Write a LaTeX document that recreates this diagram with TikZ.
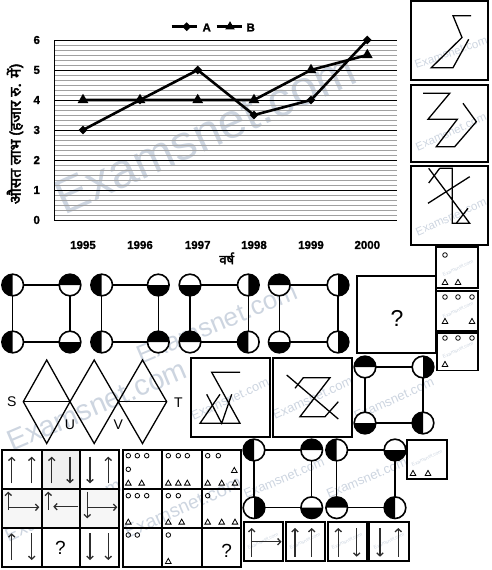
\documentclass[tikz,border=0pt]{standalone}
\usepackage{fontspec}
\setmainfont{Liberation Sans}[BoldFont={Liberation Sans Bold}]
\newfontfamily\hindi[Script=Devanagari,FakeBold=2.5]{Noto Sans}
\newfontfamily\heavy[FakeBold=1.2]{Liberation Sans Bold}
\usetikzlibrary{arrows.meta,calc,shapes.geometric}
\definecolor{wm}{RGB}{205,213,224}
\definecolor{minorc}{RGB}{160,160,160}
\definecolor{arrc}{RGB}{45,45,45}
\newcommand\fs[1]{\fontsize{#1}{#1}\selectfont}
\newcommand\smallo[2]{\draw[line width=0.8pt] (#1,#2) circle[radius=2.3];}
\newcommand\smallt[2]{\draw[line width=0.8pt] (#1-2.8,#2+2.4) -- (#1+2.8,#2+2.4) -- (#1,#2-2.6) -- cycle;}
\newcommand\hcirc[2]{%
  \fill[white] (#1) circle[radius=10.8];
  \fill ($(#1)+(#2:10.8)$) arc[start angle=#2,delta angle=180,radius=10.8] -- cycle;
  \draw[line width=1.6pt] (#1) circle[radius=10.8];}
\newcommand\cfig[9]{%
  \coordinate (#1tl) at (#2,#4); \coordinate (#1tr) at (#3,#4);
  \coordinate (#1bl) at (#2,#5); \coordinate (#1br) at (#3,#5);
  \draw[line width=1.4pt] (#1tl) -- (#1tr) -- (#1br) -- (#1bl) -- cycle;
  \hcirc{#1tl}{#6}\hcirc{#1tr}{#7}\hcirc{#1bl}{#8}\hcirc{#1br}{#9}}
\begin{document}
\begin{tikzpicture}[x=1pt,y=-1pt,line join=miter,
  box/.style={draw,line width=1.8pt},
  figline/.style={line width=1.3pt},
  series/.style={line width=2.6pt},
  dmark/.style={diamond,fill=black,inner sep=0pt,minimum size=9pt},
  tmark/.style={regular polygon,regular polygon sides=3,fill=black,inner sep=0pt,minimum size=12.5pt},
  tick/.style={font=\heavy\fs{11.5}},
  wmark/.style={text=wm,font=\fs{#1},inner sep=0pt},
  arr/.style={draw=arrc,line width=1.3pt,-{Straight Barb[length=3pt,width=6.5pt]}},
  bigq/.style={font=\fs{19}},
  lbl/.style={font=\fs{14}}]
\useasboundingbox (0,0) rectangle (492,570);
% ---------------- watermarks
\node[wmark=49,rotate=24.3] (w1) at (205.5,133.5) {Examsnet.com};
\node[wmark=26,rotate=22.7] (w2) at (217,323) {Examsnet.com};
\node[wmark=29,rotate=23] (w3) at (97,405) {Examsnet.com};
\node[wmark=19,rotate=24.7] (w4) at (63,510) {Examsnet.com};
\node[wmark=19,rotate=23.8] (w5) at (183,507) {Examsnet.com};
\node[wmark=13,rotate=23] (w6) at (284,478) {Examsnet.com};
\node[wmark=13,rotate=23] (w7) at (366.7,478) {Examsnet.com};
\node[wmark=12.7,rotate=24.5] (w8) at (230,399) {Examsnet.com};
\node[wmark=13,rotate=24.5] (w9) at (312.5,398) {Examsnet.com};
\node[wmark=13,rotate=24.5] (w10) at (394,399) {Examsnet.com};
\node[wmark=11.5,rotate=19] (w11) at (451,52.5) {Examsnet.com};
\node[wmark=11.5,rotate=24] (w12) at (451,132) {Examsnet.com};
\node[wmark=11.5,rotate=24] (w13) at (451,217) {Examsnet.com};
\foreach \i/\x/\y in {a/458/268,b/458/310,c/458/350,d/427/458,e/263/541,f/305/541,g/347/541,h/389/541}
  \node[wmark=5,rotate=25] (ws\i) at (\x,\y) {Examsnet.com};
% ---------------- chart
\foreach \k in {1,...,35}
  \draw[minorc,line width=0.5pt] (54.3,{220-5*\k}) -- (397,{220-5*\k});
\foreach \v in {1,...,6}
  \draw[line width=0.8pt] (54.3,{220-30*\v}) -- (397,{220-30*\v});
\draw[line width=1pt] (54.3,40.7) -- (54.3,220) -- (397,220);
\foreach \v in {0,...,6}
  \node[tick] (yl\v) at (36.7,{220-30*\v}) {\v};
\foreach \n/\x/\yr in {1/83/1995,2/140/1996,3/197.7/1997,4/254/1998,5/311/1999,6/367.3/2000}
  \node[tick] (xl\n) at (\x,245) {\yr};
\foreach \n/\x/\a/\b in {1/83/3/4,2/140/4/4,3/197.7/5/4,4/254/3.5/4,5/311/4/5,6/367.3/6/5.5}{
  \coordinate (a\n) at (\x,{220-30*\a});
  \coordinate (b\n) at (\x,{220-30*\b});}
\draw[series] (b1) -- (b2) -- (b3) -- (b4) -- (b5) -- (b6);
\draw[series] (a1) -- (a2) -- (a3) -- (a4) -- (a5) -- (a6);
\foreach \n in {1,...,6}{
  \node[tmark] (tb\n) at (b\n) {};
  \node[dmark] (da\n) at (a\n) {};}
% legend
\coordinate (la1) at (171.7,26.7); \coordinate (la2) at (196.7,26.7);
\coordinate (lb1) at (216.7,26.7); \coordinate (lb2) at (241.7,26.7);
\draw[series] (la1) -- (la2);
\draw[series] (lb1) -- (lb2);
\node[dmark] (lda) at (186.7,26.7) {};
\node[tmark,minimum size=11pt] (ltb) at (230,26.7) {};
\node[tick] (lA) at (206.7,27.5) {A};
\node[tick] (lB) at (250.7,27.5) {B};
\node[rotate=90,font=\hindi\fs{15.5}] (ytitle) at (15,134) {औसत लाभ (हजार रु. में)};
\node[font=\hindi\fs{13}] (xtitle) at (226.7,258.3) {वर्ष};
% ---------------- top-right boxes
\draw[box] (410.7,1) rectangle (488,80);
\draw[box] (410.7,85) rectangle (488,162);
\draw[box] (410.7,166) rectangle (488,245);
\draw[figline] (471,15.7) -- (453,15.7) -- (462,37.5) -- (431.3,67.7) -- (453,67.7) -- (468.7,39.3);
\draw[figline] (423,93.3) -- (449.7,93.3) -- (428,119.3) -- (457.3,119.3) -- (436.3,146.7) -- (454.7,146.7) -- (476.3,121.7) -- (463,103.3);
\draw[figline] (439.7,168.3) -- (452.3,168.3) -- (452.3,223.3) -- (469.7,223.3) -- (428.7,168.3);
\draw[figline] (439.7,168.3) -- (428.7,183);
\draw[figline] (428,203.3) -- (469.7,176.7);
\draw[figline] (456.3,223.3) -- (468,208.3);
% ---------------- small o/triangle boxes
\draw[box] (436,247) rectangle (478,288);
\draw[box] (436,291) rectangle (478,331);
\draw[box] (437,333) rectangle (478,370.5);
\draw[box] (407,440) rectangle (447,479);
\smallo{445}{255}\smallt{445}{282}\smallt{458}{282}
\smallo{445}{297}\smallo{458}{297}\smallo{472}{297}\smallt{445}{321}\smallt{472}{321}
\smallo{445}{338}\smallo{458}{338}\smallo{472}{338}\smallt{445}{364}
\smallt{413}{473}\smallt{428}{473}
% ---------------- question box
\draw[box] (357.3,276) rectangle (435.7,353.3);
\node[font=\fs{23}] (q1) at (397,318) {?};
% ---------------- circle figures
\cfig{f1}{12.7}{70}{285}{342}{90}{180}{90}{0}
\cfig{f2}{101.7}{158.3}{285}{342}{90}{0}{90}{180}
\cfig{f3}{190}{248.3}{285}{342}{0}{-90}{180}{90}
\cfig{f4}{279.3}{338}{285}{342}{180}{-90}{0}{-90}
\cfig{f5}{365}{423}{367}{423}{180}{-90}{0}{90}
\cfig{f6}{254}{311.7}{450}{507.7}{90}{180}{-90}{0}
\cfig{f7}{336.7}{395}{450}{507.7}{90}{0}{180}{90}
% ---------------- diamonds S U V T
\coordinate (d0) at (23.3,401.7); \coordinate (d1) at (70,401.7);
\coordinate (d2) at (118.3,401.7); \coordinate (d3) at (166.7,401.7);
\coordinate (t1) at (46.7,360); \coordinate (t2) at (94.2,360); \coordinate (t3) at (142.5,360);
\coordinate (u1) at (46.7,443.5); \coordinate (u2) at (94.2,443.5); \coordinate (u3) at (142.5,443.5);
\draw[figline] (d0) -- (t1) -- (d1) -- (t2) -- (d2) -- (t3) -- (d3) -- (u3) -- (d2) -- (u2) -- (d1) -- (u1) -- cycle;
\draw[figline] (d0) -- (d1);
\draw[figline] (d2) -- (d3);
\node[lbl] (lS) at (11.7,401.7) {S};
\node[lbl] (lT) at (178.3,403) {T};
\node[lbl] (lU) at (70,425) {U};
\node[lbl] (lV) at (118.3,425) {V};
% ---------------- sigma boxes
\draw[box] (190.7,358.3) rectangle (270,436.7);
\draw[box] (272.7,358.3) rectangle (351.7,436.7);
\draw[figline] (240,372.3) -- (211.7,372.3) -- (240,423.3) -- (200,423.3) -- (220,394.3);
\draw[figline] (206.7,394.3) -- (221.7,423.3) -- (231.7,394.3);
\draw[figline] (295,388.3) -- (303.3,377.7) -- (330,377.7) -- (300,416.7) -- (325,416.7) -- (338.3,401.7);
\draw[figline] (286.7,375) -- (338.3,419);
% ---------------- arrow grid
\fill[gray!12] (41.7,450) rectangle (80.3,489);
\fill[gray!7] (1.7,489) rectangle (119.3,528);
\draw[box] (1.7,450) rectangle (119.3,567);
\draw[box] (41.7,450) -- (41.7,567) (80.3,450) -- (80.3,567) (1.7,489) -- (119.3,489) (1.7,528) -- (119.3,528);
\draw[arr] (11.7,483.3) -- (11.7,456.7);
\draw[arr] (31.7,483.3) -- (31.7,456.7);
\draw[arr] (51.7,483.3) -- (51.7,456.7);
\draw[arr] (70,456.7) -- (70,483.3);
\draw[arr] (90,456.7) -- (90,483.3);
\draw[arr] (108.3,483.3) -- (108.3,456.7);
\draw[arr] (8.3,510) -- (8.3,491.7);
\draw[arr] (8.3,507.3) -- (39.3,507.3);
\draw[arr] (48.3,510) -- (48.3,491.7);
\draw[arr] (78.3,506.7) -- (53.3,506.7);
\draw[arr] (87.3,491.7) -- (87.3,518.3);
\draw[arr] (87.3,507.3) -- (117.3,507.3);
\draw[arr] (11.7,560) -- (11.7,533.3);
\draw[arr] (31.7,533.3) -- (31.7,560);
\draw[arr] (90,533.3) -- (90,560);
\draw[arr] (108.3,533.3) -- (108.3,560);
\node[bigq] (q2) at (60.5,547.5) {?};
% ---------------- o/triangle grid
\draw[box] (123.3,450) rectangle (241,567);
\draw[box] (162.3,450) -- (162.3,567) (201.7,450) -- (201.7,567) (123.3,489) -- (241,489) (123.3,528) -- (241,528);
\smallo{128.3}{455.7}\smallo{137.3}{455.7}\smallo{146.7}{455.7}\smallo{128.3}{469.3}
\smallt{128.3}{482.7}\smallt{141.7}{482.7}
\smallo{168.3}{455.7}\smallo{178.3}{455.7}\smallo{187.3}{455.7}
\smallt{168.3}{482.7}\smallt{178.3}{482.7}\smallt{187.3}{482.7}
\smallo{207.7}{455.7}\smallo{218.3}{455.7}\smallt{234.3}{470}
\smallt{207.7}{482.7}\smallt{221.7}{482.7}\smallt{235}{482.7}
\smallo{128.3}{495.7}\smallo{137.3}{495.7}\smallo{146.7}{495.7}\smallt{128.3}{521.7}
\smallo{168.3}{495.7}\smallo{178.3}{495.7}\smallt{168.3}{521.7}\smallt{181.7}{521.7}
\smallo{207.7}{495.7}\smallt{207.7}{521.7}\smallt{221.7}{521.7}\smallt{235}{521.7}
\smallo{128.3}{535}\smallo{137.3}{535}
\smallo{168.3}{535}\smallt{168.3}{561}
\node[bigq] (q3) at (226.7,551) {?};
% ---------------- bottom arrow boxes
\draw[box] (244,521.7) rectangle (283.3,560.7);
\draw[box] (285.7,521.7) rectangle (325,560.7);
\draw[box] (327.7,521.7) rectangle (367.3,560.7);
\draw[box] (369.3,521.7) rectangle (409.3,560.7);
\draw[arr] (251.7,556.7) -- (251.7,528);
\draw[arr] (251.7,541.7) -- (281.5,541.7);
\draw[arr] (295,556.7) -- (295,528);
\draw[arr] (311.7,556.7) -- (311.7,528);
\draw[arr] (338.3,556.7) -- (338.3,528);
\draw[arr] (356.7,528) -- (356.7,556.7);
\draw[arr] (380,528) -- (380,556.7);
\draw[arr] (398.3,556.7) -- (398.3,528);
\end{tikzpicture}
\end{document}
